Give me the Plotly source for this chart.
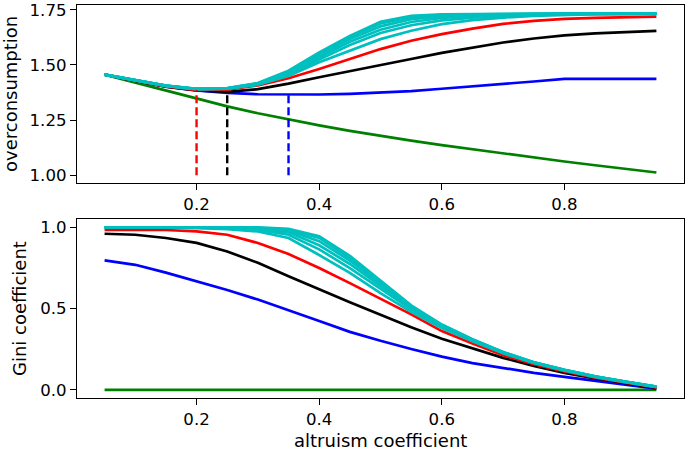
import plotly.graph_objects as go

# ---------------- data ----------------
alpha = [0.05, 0.10, 0.15, 0.20, 0.25, 0.30, 0.35, 0.40, 0.45, 0.50,
         0.55, 0.60, 0.65, 0.70, 0.75, 0.80, 0.85, 0.90, 0.95]

over_green = [1.456, 1.420, 1.384, 1.347, 1.312, 1.281, 1.253, 1.226, 1.201, 1.178,
              1.157, 1.136, 1.117, 1.098, 1.080, 1.062, 1.045, 1.028, 1.012]
over_blue = [1.456, 1.428, 1.402, 1.384, 1.373, 1.367, 1.365, 1.366, 1.369, 1.374,
             1.381, 1.392, 1.402, 1.413, 1.425, 1.437, 1.437, 1.437, 1.437]
over_black = [1.456, 1.428, 1.402, 1.385, 1.378, 1.390, 1.415, 1.444, 1.471, 1.497,
              1.527, 1.555, 1.580, 1.602, 1.620, 1.634, 1.643, 1.650, 1.655]
over_red = [1.456, 1.429, 1.403, 1.386, 1.388, 1.407, 1.440, 1.482, 1.527, 1.572,
            1.610, 1.640, 1.665, 1.686, 1.700, 1.709, 1.714, 1.717, 1.719]
over_cyan_1 = [1.456, 1.430, 1.405, 1.390, 1.392, 1.410, 1.450, 1.512, 1.565, 1.617,
               1.655, 1.685, 1.703, 1.715, 1.722, 1.727, 1.730, 1.731, 1.732]
over_cyan_2 = [1.456, 1.430, 1.405, 1.390, 1.393, 1.412, 1.455, 1.525, 1.590, 1.645,
               1.680, 1.702, 1.715, 1.722, 1.727, 1.730, 1.731, 1.732, 1.733]
over_cyan_3 = [1.456, 1.430, 1.405, 1.391, 1.393, 1.414, 1.460, 1.535, 1.605, 1.660,
               1.695, 1.713, 1.722, 1.727, 1.730, 1.731, 1.732, 1.733, 1.733]
over_cyan_4 = [1.456, 1.430, 1.406, 1.391, 1.394, 1.415, 1.465, 1.545, 1.618, 1.675,
               1.708, 1.720, 1.727, 1.730, 1.731, 1.732, 1.733, 1.733, 1.733]
over_cyan_5 = [1.456, 1.430, 1.406, 1.392, 1.394, 1.417, 1.470, 1.552, 1.627, 1.688,
               1.717, 1.727, 1.730, 1.731, 1.732, 1.733, 1.733, 1.734, 1.734]
over_cyan_6 = [1.456, 1.431, 1.406, 1.392, 1.395, 1.418, 1.474, 1.557, 1.632, 1.696,
               1.723, 1.730, 1.732, 1.733, 1.733, 1.734, 1.734, 1.734, 1.734]

gini_green = [0.0, 0.0, 0.0, 0.0, 0.0, 0.0, 0.0, 0.0, 0.0, 0.0,
              0.0, 0.0, 0.0, 0.0, 0.0, 0.0, 0.0, 0.0, 0.0]
gini_blue = [0.797, 0.770, 0.722, 0.670, 0.615, 0.556, 0.492, 0.424, 0.357, 0.302,
             0.252, 0.205, 0.165, 0.133, 0.105, 0.080, 0.055, 0.030, 0.008]
gini_black = [0.961, 0.955, 0.935, 0.905, 0.852, 0.782, 0.700, 0.618, 0.540, 0.462,
              0.385, 0.315, 0.255, 0.197, 0.148, 0.105, 0.070, 0.040, 0.012]
gini_red = [0.985, 0.987, 0.984, 0.976, 0.955, 0.904, 0.836, 0.750, 0.657, 0.560,
            0.465, 0.362, 0.285, 0.213, 0.158, 0.114, 0.075, 0.045, 0.015]
gini_cyan_1 = [1.000, 1.000, 0.999, 0.995, 0.990, 0.975, 0.935, 0.830, 0.720, 0.595,
               0.480, 0.380, 0.300, 0.225, 0.165, 0.120, 0.080, 0.048, 0.018]
gini_cyan_2 = [1.000, 1.000, 1.000, 0.998, 0.995, 0.985, 0.955, 0.865, 0.750, 0.620,
               0.495, 0.390, 0.305, 0.228, 0.167, 0.121, 0.081, 0.049, 0.018]
gini_cyan_3 = [1.000, 1.000, 1.000, 1.000, 0.998, 0.990, 0.970, 0.890, 0.775, 0.640,
               0.505, 0.395, 0.307, 0.230, 0.168, 0.122, 0.082, 0.050, 0.019]
gini_cyan_4 = [1.000, 1.000, 1.000, 1.000, 1.000, 0.995, 0.980, 0.915, 0.795, 0.655,
               0.512, 0.398, 0.309, 0.231, 0.169, 0.122, 0.082, 0.050, 0.019]
gini_cyan_5 = [1.000, 1.000, 1.000, 1.000, 1.000, 0.998, 0.987, 0.935, 0.810, 0.663,
               0.516, 0.400, 0.310, 0.232, 0.170, 0.123, 0.083, 0.050, 0.020]
gini_cyan_6 = [1.000, 1.000, 1.000, 1.000, 1.000, 1.000, 0.992, 0.945, 0.825, 0.672,
               0.520, 0.402, 0.312, 0.233, 0.170, 0.123, 0.083, 0.051, 0.020]

# vertical dashed markers: altruism value where each curve reaches its minimum
dash_alpha = [0.20, 0.25, 0.35]
dash_base = 1.0

x_ticks = [0.2, 0.4, 0.6, 0.8]
over_ticks = [1.00, 1.25, 1.50, 1.75]
gini_ticks = [0.0, 0.5, 1.0]

# ---------------- styles ----------------
C_GREEN = "#008000"
C_BLUE = "#0000FF"
C_BLACK = "#000000"
C_RED = "#FF0000"
C_CYAN = "#00BFBF"
LW = 2.7

fig = go.Figure()


def add_line(y, color, xa, ya):
    fig.add_trace(go.Scatter(x=alpha, y=y, mode="lines",
                             line=dict(color=color, width=LW),
                             xaxis=xa, yaxis=ya, showlegend=False,
                             hoverinfo="skip"))


top_series = [(over_green, C_GREEN), (over_blue, C_BLUE), (over_black, C_BLACK),
              (over_red, C_RED), (over_cyan_1, C_CYAN), (over_cyan_2, C_CYAN),
              (over_cyan_3, C_CYAN), (over_cyan_4, C_CYAN), (over_cyan_5, C_CYAN),
              (over_cyan_6, C_CYAN)]
for ys, col in top_series:
    add_line(ys, col, "x", "y")

# dashed lines from 1.0 to the curve value
dash_src = [(over_red, C_RED), (over_black, C_BLACK), (over_blue, C_BLUE)]
for a, (ys, col) in zip(dash_alpha, dash_src):
    top = ys[alpha.index(a)]
    fig.add_trace(go.Scatter(x=[a, a], y=[dash_base, top], mode="lines",
                             line=dict(color=col, width=2.4, dash="8px,4px"),
                             xaxis="x", yaxis="y", showlegend=False,
                             hoverinfo="skip"))

bot_series = [(gini_green, C_GREEN), (gini_blue, C_BLUE), (gini_black, C_BLACK),
              (gini_red, C_RED), (gini_cyan_1, C_CYAN), (gini_cyan_2, C_CYAN),
              (gini_cyan_3, C_CYAN), (gini_cyan_4, C_CYAN), (gini_cyan_5, C_CYAN),
              (gini_cyan_6, C_CYAN)]
for ys, col in bot_series:
    add_line(ys, col, "x2", "y2")

FONT = "DejaVu Sans"
TICKFONT = dict(family=FONT, size=16.6, color="black")

axis_common = dict(showline=True, linecolor="black", linewidth=1.3, mirror=True,
                   ticks="outside", ticklen=6, tickwidth=1.3, tickcolor="black",
                   showgrid=False, zeroline=False, tickfont=TICKFONT)

fig.update_layout(
    width=685, height=450,
    margin=dict(l=77, r=1, t=5, b=52),
    paper_bgcolor="white", plot_bgcolor="white",
    xaxis=dict(domain=[0, 1], anchor="y", range=[0.005, 0.995],
               tickvals=x_ticks, tickformat=".1f", **axis_common),
    yaxis=dict(domain=[0.5463, 1], anchor="x", range=[0.963, 1.772],
               tickvals=over_ticks, tickformat=".2f", **axis_common),
    xaxis2=dict(domain=[0, 1], anchor="y2", range=[0.005, 0.995],
                tickvals=x_ticks, tickformat=".1f", **axis_common),
    yaxis2=dict(domain=[0, 0.4547], anchor="x2", range=[-0.05, 1.05],
                tickvals=gini_ticks, tickformat=".1f", **axis_common),
    annotations=[
        dict(text="overconsumption", xref="paper", yref="paper",
             x=(10 - 77) / 607, y=0.7735, xanchor="center", yanchor="middle",
             textangle=-90, showarrow=False, borderpad=0,
             font=dict(family=FONT, size=18, color="black")),
        dict(text="Gini coefficient", xref="paper", yref="paper",
             x=(19.5 - 77) / 607, y=0.2277, xanchor="center", yanchor="middle",
             textangle=-90, showarrow=False, borderpad=0,
             font=dict(family=FONT, size=18, color="black")),
        dict(text="altruism coefficient", xref="paper", yref="paper",
             x=0.5, y=(398 - 440.5) / 393, xanchor="center", yanchor="middle",
             showarrow=False, borderpad=0,
             font=dict(family=FONT, size=18, color="black")),
    ],
)

fig.write_html(
    "out.html",
    config={"displayModeBar": False},
    post_script="document.body.style.margin='0px';"
                "document.body.style.overflow='hidden';",
)
